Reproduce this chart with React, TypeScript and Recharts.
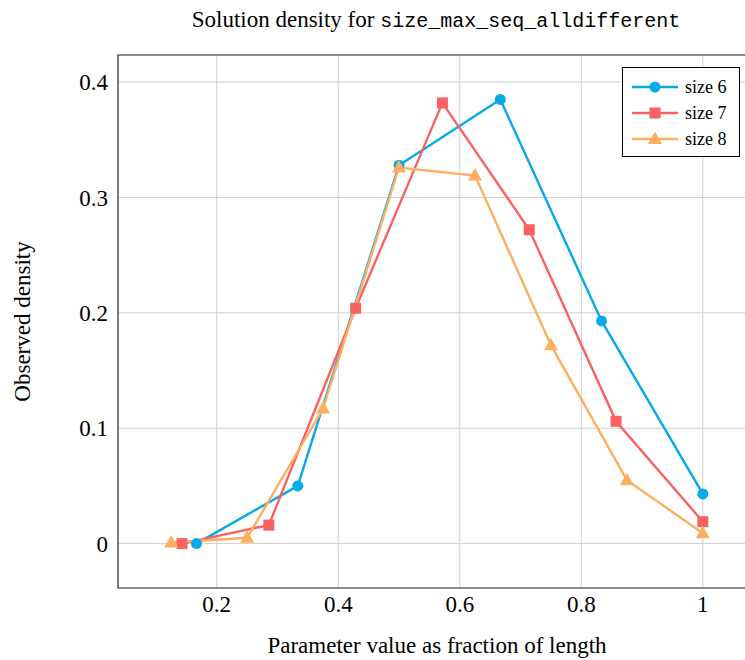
import React from 'react';
import { LineChart, Line, XAxis, YAxis, CartesianGrid, Legend, ReferenceArea, Label } from 'recharts';

// x positions are fractions of the sequence length
const xs6 = [1 / 6, 2 / 6, 3 / 6, 4 / 6, 5 / 6, 1];
const ys6 = [0, 0.05, 0.328, 0.385, 0.193, 0.043];

const xs7 = [1 / 7, 2 / 7, 3 / 7, 4 / 7, 5 / 7, 6 / 7, 1];
const ys7 = [0, 0.016, 0.204, 0.382, 0.272, 0.106, 0.019];

const xs8 = [1 / 8, 2 / 8, 3 / 8, 4 / 8, 5 / 8, 6 / 8, 7 / 8, 1];
const ys8 = [0.001, 0.005, 0.117, 0.326, 0.319, 0.172, 0.055, 0.009];

const xTicks = [0.2, 0.4, 0.6, 0.8, 1];
const yTicks = [0, 0.1, 0.2, 0.3, 0.4];
const seriesNames = ['size 6', 'size 7', 'size 8'];

const X_DOMAIN: [number, number] = [0.0375, 1.0875];
const Y_DOMAIN: [number, number] = [-0.0385, 0.4235];

const BLUE = '#05aae8';
const RED = '#fa6262';
const ORANGE = '#feae5f';
const SERIF = '"Liberation Serif", "Times New Roman", serif';

const toPoints = (xs: number[], ys: number[]) => xs.map((x, i) => ({ x, y: ys[i] }));

const marker = (kind: string, color: string, cx: number, cy: number, key?: any) => {
    if (kind === 'circle') return <circle key={key} cx={cx} cy={cy} r={5.5} fill={color} />;
    if (kind === 'square') return <rect key={key} x={cx - 5.5} y={cy - 5.5} width={11} height={11} fill={color} />;
    return <polygon key={key} points={`${cx},${cy - 7.5} ${cx - 7},${cy + 5} ${cx + 7},${cy + 5}`} fill={color} />;
};

const dotFn = (kind: string, color: string) => (props: any) =>
    marker(kind, color, props.cx, props.cy, `${kind}-${props.index}`);

const series = [
    { name: seriesNames[0], color: BLUE, kind: 'circle', data: toPoints(xs6, ys6) },
    { name: seriesNames[1], color: RED, kind: 'square', data: toPoints(xs7, ys7) },
    { name: seriesNames[2], color: ORANGE, kind: 'triangle', data: toPoints(xs8, ys8) },
];

function LegendBox() {
    return (
        <div style={{ border: '1px solid #000', background: '#fff', padding: '6px 6px 4px 9px', fontFamily: SERIF, fontSize: 18 }}>
            {series.map(s => (
                <div key={s.name} style={{ display: 'flex', alignItems: 'center', height: 26 }}>
                    <svg width={46} height={16} style={{ marginRight: 7 }}>
                        <line x1={0} y1={8} x2={46} y2={8} stroke={s.color} strokeWidth={2.4} />
                        {marker(s.kind, s.color, 23, 8)}
                    </svg>
                    <span style={{ color: '#000' }}>{s.name}</span>
                </div>
            ))}
        </div>
    );
}

export default function App() {
    return (
        <div style={{ position: 'absolute', left: 0, top: 0, width: 745, height: 660, overflow: 'hidden', background: '#fff' }}>
            <div style={{ position: 'absolute', left: 0, width: 872, top: 9, textAlign: 'center', whiteSpace: 'nowrap', lineHeight: '22px', fontFamily: SERIF, fontSize: 23, color: '#000' }}>
                Solution density for <span style={{ fontFamily: '"Liberation Mono", monospace', fontSize: 20 }}>size_max_seq_alldifferent</span>
            </div>
            <LineChart width={760} height={660} margin={{ top: 55, right: 4, left: 0, bottom: 0 }}>
                <CartesianGrid stroke="#cfcfcf" strokeWidth={1} />
                <XAxis
                    type="number"
                    dataKey="x"
                    domain={X_DOMAIN}
                    ticks={xTicks}
                    allowDataOverflow
                    height={72}
                    axisLine={false}
                    tickLine={false}
                    tick={{ fontSize: 23, fill: '#000', fontFamily: SERIF }}
                    tickFormatter={(v: number) => (v === 1 ? '1' : v.toFixed(1))}
                >
                    <Label value="Parameter value as fraction of length" position="insideBottom" offset={7}
                        style={{ fontSize: 23, fill: '#000', fontFamily: SERIF }} />
                </XAxis>
                <YAxis
                    type="number"
                    domain={Y_DOMAIN}
                    ticks={yTicks}
                    allowDataOverflow
                    width={118}
                    axisLine={false}
                    tickLine={false}
                    tickMargin={4}
                    tick={{ fontSize: 23, fill: '#000', fontFamily: SERIF }}
                    tickFormatter={(v: number) => (v === 0 ? '0' : v.toFixed(1))}
                >
                    <Label value="Observed density" angle={-90} position="insideLeft" offset={22}
                        style={{ fontSize: 23, fill: '#000', fontFamily: SERIF, textAnchor: 'middle' }} />
                </YAxis>
                <ReferenceArea x1={X_DOMAIN[0]} x2={X_DOMAIN[1]} y1={Y_DOMAIN[0]} y2={Y_DOMAIN[1]}
                    fill="none" fillOpacity={0} stroke="#333" strokeWidth={1.2} ifOverflow="visible" />
                {series.map(s => (
                    <Line
                        key={s.name}
                        data={s.data}
                        dataKey="y"
                        name={s.name}
                        type="linear"
                        stroke={s.color}
                        strokeWidth={2.4}
                        dot={dotFn(s.kind, s.color)}
                        activeDot={false}
                        isAnimationActive={false}
                    />
                ))}
                <Legend
                    layout="vertical"
                    align="center"
                    verticalAlign="middle"
                    content={() => <LegendBox />}
                    wrapperStyle={{ position: 'absolute', left: 622, top: 67, width: 118, height: 'auto' }}
                />
            </LineChart>
        </div>
    );
}
